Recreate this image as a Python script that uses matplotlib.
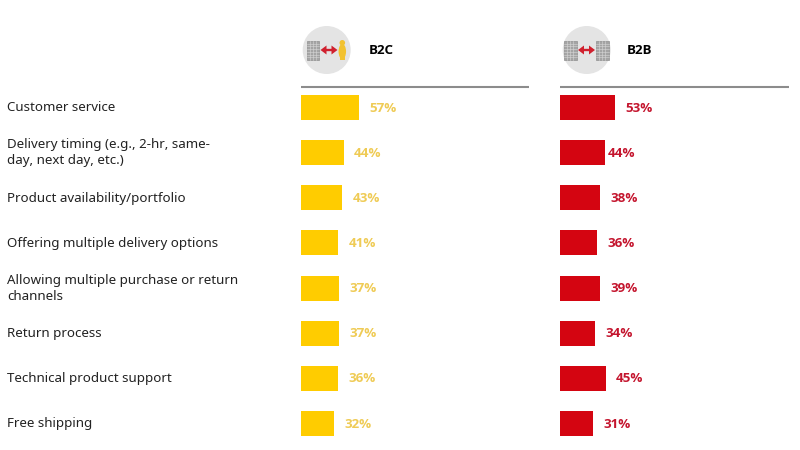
import matplotlib
matplotlib.use("Agg")
import matplotlib.pyplot as plt
from matplotlib.patches import Circle, Rectangle, Ellipse, Polygon

plt.rcParams['font.family'] = ['Noto Sans', 'DejaVu Sans']
BOLD = ['Open Sans', 'DejaVu Sans']

categories = ["Customer service", "Delivery timing (e.g., 2-hr, same-\nday, next day, etc.)",
              "Product availability/portfolio", "Offering multiple delivery options",
              "Allowing multiple purchase or return\nchannels", "Return process",
              "Technical product support", "Free shipping"]
b2c_values = [57, 44, 43, 41, 37, 37, 36, 32]
b2b_values = [53, 44, 38, 36, 39, 34, 45, 31]
b2c_lengths = [57, 42.2, 40.6, 37, 37.5, 37.5, 36.7, 33]
b2b_lengths = [54.2, 43.8, 39.2, 36, 39.2, 34.3, 45.1, 31.9]
titles = ["B2C", "B2B"]

YELLOW, RED = "#FFCC00", "#D40511"
W, H = 800, 450
PX = 1.02  # pixels per percent
ROW0, STEP, BAR_H = 107.5, 45.15, 25
b2c_gaps = [11, 10, 10.5, 10.5, 10.5, 10.5, 10.5, 10]
b2b_gaps = [10.5, 3.5, 10, 10.5, 10, 10, 10, 10.5]

fig = plt.figure(figsize=(W / 100, H / 100), dpi=100, facecolor="white")
bg = fig.add_axes([0, 0, 1, 1])
bg.set_xlim(0, W)
bg.set_ylim(H, 0)
bg.axis("off")

for i, c in enumerate(categories):
    bg.text(7, ROW0 + i * STEP + 0.3, c, va="center", ha="left", fontsize=9.6,
            color="#222222", linespacing=1.3)


def building(x, y, w, h):
    bg.add_patch(Rectangle((x, y), w, h, fc="#a4a4a4", ec="#909090", lw=0.5, zorder=3))
    for r in range(1, 7):
        yy = y + r * h / 7
        bg.plot([x, x + w], [yy, yy], color="#d8d8d8", lw=0.4, zorder=4)
    for r in range(1, 4):
        xx = x + r * w / 4
        bg.plot([xx, xx], [y, y + h], color="#d8d8d8", lw=0.4, zorder=4)


def arrow(x0, x1, y):
    col = "#D0202E"
    bg.plot([x0 + 4, x1 - 4], [y, y], color=col, lw=1.7, solid_capstyle="butt", zorder=5)
    bg.add_patch(Polygon([(x0, y), (x0 + 6, y - 4.5), (x0 + 6, y + 4.5)], fc=col, ec="none", zorder=5))
    bg.add_patch(Polygon([(x1, y), (x1 - 6, y - 4.5), (x1 - 6, y + 4.5)], fc=col, ec="none", zorder=5))


def panel(x0, x1, vals, lengths, gaps, color, text_color, title, title_x, cx):
    ax = fig.add_axes([x0 / W, 1 - 440 / H, (x1 - x0) / W, (440 - 90) / H])
    ax.set_xlim(0, (x1 - x0) / PX)
    ax.set_ylim(440, 90)
    ax.axis("off")
    ys = [ROW0 + i * STEP for i in range(len(vals))]
    ax.barh(ys, lengths, height=BAR_H, color=color, lw=0)
    for y, v, l, g in zip(ys, vals, lengths, gaps):
        ax.text(l + g / PX, y + 0.5, f"{v}%", va="center", ha="left", fontsize=9.6,
                fontweight="bold", family=BOLD, color=text_color)
    bg.plot([x0, x1], [86.6, 86.6], color="#8c8c8c", lw=1.5, solid_capstyle="butt")
    bg.add_patch(Circle((cx, 50), 24, fc="#e4e4e4", ec="none", zorder=2))
    bg.text(title_x, 51, title, va="center", ha="left", fontsize=9.6,
            fontweight="bold", family=BOLD, color="black")


panel(300.5, 529, b2c_values, b2c_lengths, b2c_gaps, YELLOW, "#EFCB55", titles[0], 369, 326.7)
panel(560, 789, b2b_values, b2b_lengths, b2b_gaps, RED, "#C4152E", titles[1], 627, 586.7)

# B2C icon: building, arrow, person
building(307, 41, 12, 19)
arrow(320.5, 337.5, 50)
bg.add_patch(Circle((342.3, 42.8), 2.8, fc="#F2C230", ec="none", zorder=4))
bg.add_patch(Ellipse((342.3, 51.5), 7.5, 15, fc="#F2C230", ec="none", zorder=4))
bg.add_patch(Rectangle((340, 50), 4.6, 10, fc="#F2C230", ec="none", zorder=4))

# B2B icon: two buildings and arrow
building(564, 41, 12.5, 19)
building(596, 41, 12.5, 19)
arrow(578, 595, 50)

fig.savefig("out.png", dpi=100, facecolor="white")
